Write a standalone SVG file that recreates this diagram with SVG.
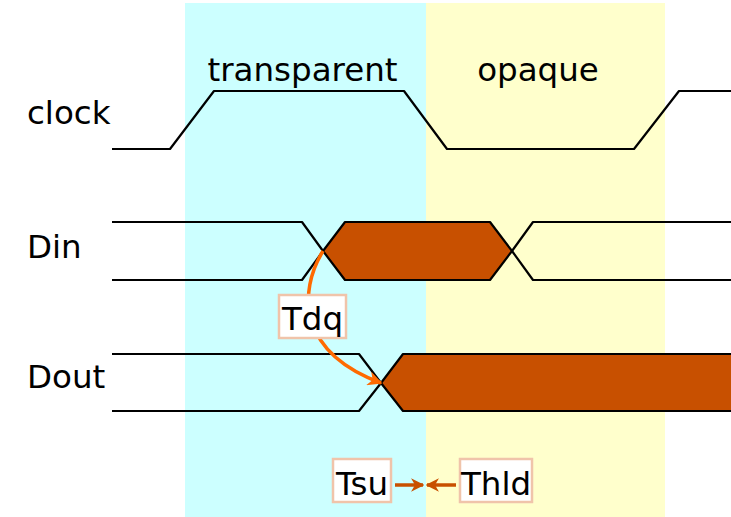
<svg xmlns="http://www.w3.org/2000/svg" width="731" height="517" viewBox="0 0 731 517">
<style>
text{font-family:"DejaVu Sans","Verdana",sans-serif;font-size:32.5px;fill:#000}
.sig{fill:none;stroke:#000;stroke-width:2.2;stroke-linejoin:round}
.bus{fill:#c85000;stroke:#000;stroke-width:2.2;stroke-linejoin:round}
.lbl{fill:#fff;stroke:#f0c4aa;stroke-width:2.5}
.c1{fill:none;stroke:#ff6a00;stroke-width:3.5}
.c2{fill:none;stroke:#c85000;stroke-width:3.5}
</style>
<defs>
<marker id="ah1" viewBox="0 0 10 10" refX="9" refY="5" markerWidth="4.2" markerHeight="4.2" orient="auto" markerUnits="strokeWidth">
<path d="M0,0 L10,5 L0,10 L3,5 Z" fill="#ff6a00"/>
</marker>
<marker id="ah2" viewBox="0 0 10 10" refX="9" refY="5" markerWidth="3.8" markerHeight="3.8" orient="auto" markerUnits="strokeWidth">
<path d="M0,0 L10,5 L0,10 L3,5 Z" fill="#c85000"/>
</marker>
</defs>
<g id="phases">
<rect x="185" y="3" width="241" height="514" fill="#ccffff"/>
<rect x="426" y="3" width="239" height="514" fill="#ffffcc"/>
<text x="302.5" y="81" text-anchor="middle">transparent</text>
<text x="538" y="81" text-anchor="middle">opaque</text>
</g>
<g id="clock">
<text x="27" y="124">clock</text>
<polyline class="sig" points="112,149 170,149 214,91 404,91 447,149 634,149 679,91 731,91"/>
</g>
<g id="din">
<text x="27" y="258">Din</text>
<polyline class="sig" points="112,222 302,222 323,251"/>
<polyline class="sig" points="112,280 302,280 323,251"/>
<polygon class="bus" points="323,251 345,222 490,222 512,251 490,280 345,280"/>
<polyline class="sig" points="512,251 533,222 731,222"/>
<polyline class="sig" points="512,251 533,280 731,280"/>
</g>
<g id="dout">
<text x="27" y="388">Dout</text>
<polyline class="sig" points="112,354 359,354 381,383"/>
<polyline class="sig" points="112,411 359,411 381,383"/>
<path class="bus" d="M733,354 L403,354 L381,383 L403,411 L733,411"/>
</g>
<g id="connectors">
<path class="c1" d="M323,251 C298,292 298,352 381,383" marker-end="url(#ah1)"/>
<line class="c2" x1="395" y1="485" x2="423" y2="485" marker-end="url(#ah2)"/>
<line class="c2" x1="456" y1="485" x2="427" y2="485" marker-end="url(#ah2)"/>
</g>
<g id="tdq">
<rect class="lbl" x="279" y="295" width="67" height="43"/>
<text x="312.5" y="330" text-anchor="middle">Tdq</text>
</g>
<g id="tsu">
<rect class="lbl" x="333" y="459" width="58" height="43"/>
<text x="362" y="495" text-anchor="middle">Tsu</text>
</g>
<g id="thld">
<rect class="lbl" x="460" y="459" width="72" height="43"/>
<text x="496" y="495" text-anchor="middle">Thld</text>
</g>
</svg>
